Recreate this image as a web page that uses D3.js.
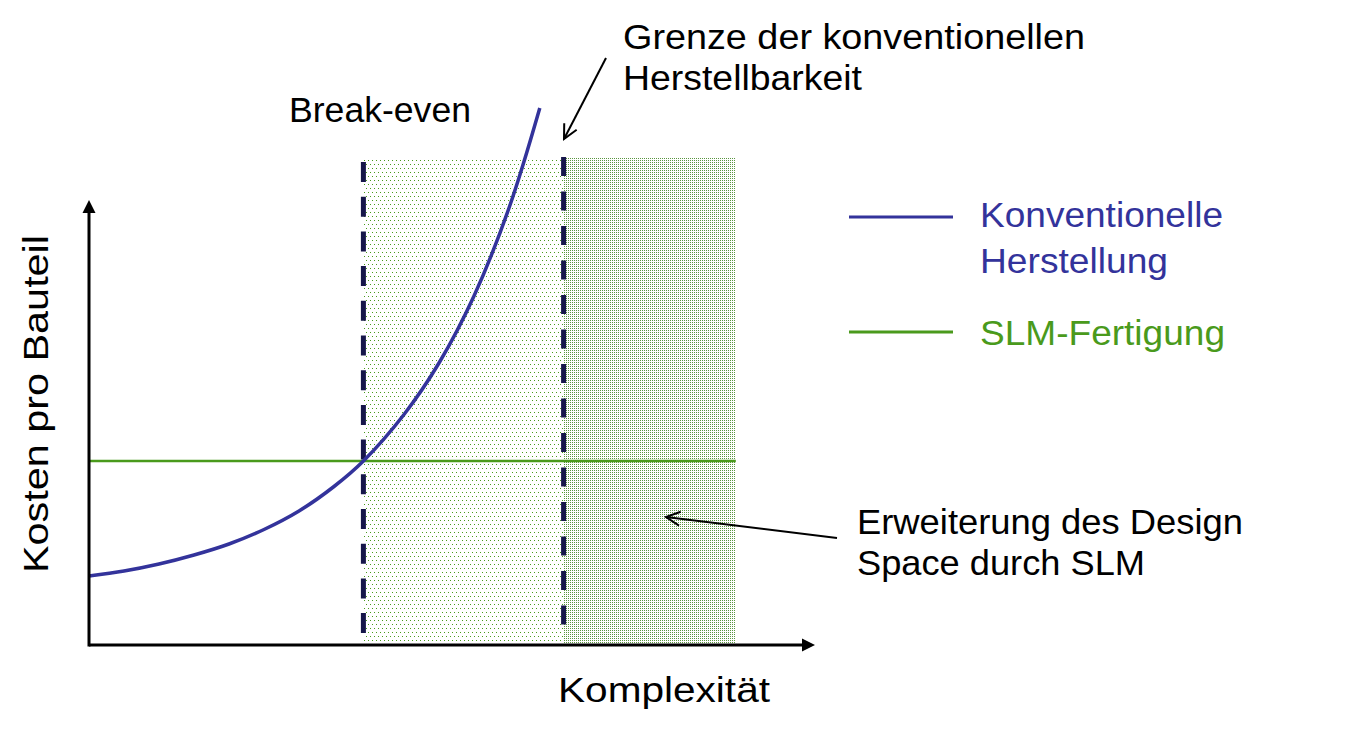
<!DOCTYPE html>
<html>
<head>
<meta charset="utf-8">
<script src="https://cdn.jsdelivr.net/npm/d3@7"></script>
<style>
  html, body { margin: 0; padding: 0; background: #fff; }
  svg { display: block; font-family: "Liberation Sans", Arial, sans-serif; }
</style>
</head>
<body>
<svg id="chart" width="1346" height="734"></svg>
<script>
// ---- data (conceptual units: complexity 0..10, cost 0..10) ----
const complexity = [0, 0.5, 1, 1.5, 2, 2.5, 3, 3.5, 3.92, 4.5, 5, 5.5, 6, 6.44];
const convCost   = [1.38, 1.48, 1.62, 1.80, 2.02, 2.31, 2.68, 3.17, 3.68, 4.61, 5.64, 6.98, 8.74, 10.74];
const slmX       = [0, 9.24];
const slmCost    = [3.68, 3.68];
const breakEven  = 3.92;   // complexity at break-even
const convLimit  = 6.78;   // limit of conventional manufacturability
const designEnd  = 9.24;   // end of extended design space
const regionTop  = 9.74;
const legendLabels = [["Konventionelle", "Herstellung"], ["SLM-Fertigung"]];

const blue = "#33339b", green = "#4a9a1c", navy = "#16164a", dotGreen = "#5a9640";

const svg = d3.select("#chart");
const x = d3.scaleLinear().domain([0, 10]).range([89, 789]);
const y = d3.scaleLinear().domain([0, 10]).range([645, 145]);

// patterns
const defs = svg.append("defs");
const pSparse = defs.append("pattern").attr("id", "sparse").attr("patternUnits", "userSpaceOnUse")
  .attr("width", 4).attr("height", 8);
pSparse.append("rect").attr("x", 0).attr("y", 0).attr("width", 1).attr("height", 1).attr("fill", green).attr("shape-rendering", "crispEdges");
pSparse.append("rect").attr("x", 2).attr("y", 4).attr("width", 1).attr("height", 1).attr("fill", green).attr("shape-rendering", "crispEdges");
const pDense = defs.append("pattern").attr("id", "dense").attr("patternUnits", "userSpaceOnUse")
  .attr("width", 2).attr("height", 2);
pDense.append("rect").attr("x", 0).attr("y", 0).attr("width", 1).attr("height", 1).attr("fill", dotGreen).attr("shape-rendering", "crispEdges");

// arrow markers
defs.append("marker").attr("id", "open").attr("viewBox", "0 0 20 20").attr("refX", 18).attr("refY", 10)
  .attr("markerWidth", 20).attr("markerHeight", 20).attr("markerUnits", "userSpaceOnUse").attr("orient", "auto")
  .append("path").attr("d", "M4,3 L18,10 L4,17").attr("fill", "none").attr("stroke", "#000").attr("stroke-width", 2);

// shaded regions
svg.append("rect").attr("x", x(breakEven)).attr("y", y(regionTop))
  .attr("width", x(convLimit) - x(breakEven)).attr("height", y(0) - y(regionTop)).attr("fill", "url(#sparse)");
svg.append("rect").attr("x", x(convLimit)).attr("y", y(regionTop))
  .attr("width", x(designEnd) - x(convLimit)).attr("height", y(0) - y(regionTop)).attr("fill", "url(#dense)");

// dashed verticals
svg.append("line").attr("x1", x(breakEven)).attr("x2", x(breakEven)).attr("y1", y(regionTop) + 4).attr("y2", y(0) - 5)
  .attr("stroke", navy).attr("stroke-width", 5).attr("stroke-dasharray", "20,14.7");
svg.append("line").attr("x1", x(convLimit)).attr("x2", x(convLimit)).attr("y1", y(regionTop) - 1).attr("y2", y(0) - 5)
  .attr("stroke", navy).attr("stroke-width", 5).attr("stroke-dasharray", "19,15.5");

// SLM line
svg.append("path").datum(slmX.map((d, i) => [d, slmCost[i]]))
  .attr("d", d3.line().x(d => x(d[0])).y(d => y(d[1])))
  .attr("fill", "none").attr("stroke", green).attr("stroke-width", 2.6);

// conventional curve
svg.append("path").datum(complexity.map((d, i) => [d, convCost[i]]))
  .attr("d", d3.line().curve(d3.curveCatmullRom.alpha(0.5)).x(d => x(d[0])).y(d => y(d[1])))
  .attr("fill", "none").attr("stroke", blue).attr("stroke-width", 3.5);

// axes with arrowheads
svg.append("line").attr("x1", x(0)).attr("x2", 803).attr("y1", y(0)).attr("y2", y(0))
  .attr("stroke", "#000").attr("stroke-width", 3);
svg.append("path").attr("d", `M815,${y(0)} L802,${y(0) - 6.5} L802,${y(0) + 6.5} Z`).attr("fill", "#000");
svg.append("line").attr("x1", x(0)).attr("x2", x(0)).attr("y1", y(0) + 1.5).attr("y2", 211)
  .attr("stroke", "#000").attr("stroke-width", 3);
svg.append("path").attr("d", `M${x(0)},200 L${x(0) - 6.5},213 L${x(0) + 6.5},213 Z`).attr("fill", "#000");

// texts
function txt(s, px, py, len, fill, size) {
  return svg.append("text").attr("x", px).attr("y", py).text(s)
    .attr("font-size", size || 35).attr("fill", fill || "#000")
    .attr("textLength", len).attr("lengthAdjust", "spacingAndGlyphs");
}
txt("Break-even", 289, 122, 182);
txt("Grenze der konventionellen", 623, 49, 462);
txt("Herstellbarkeit", 623, 90, 239);
txt("Erweiterung des Design", 857, 534, 386);
txt("Space durch SLM", 857, 575, 288);
txt("Komplexität", 558, 702, 212);
svg.append("text").attr("transform", "translate(48,573) rotate(-90)").text("Kosten pro Bauteil")
  .attr("font-size", 35).attr("textLength", 338).attr("lengthAdjust", "spacingAndGlyphs");

// legend
svg.append("line").attr("x1", 849).attr("x2", 953).attr("y1", 217).attr("y2", 217).attr("stroke", blue).attr("stroke-width", 3);
svg.append("line").attr("x1", 849).attr("x2", 953).attr("y1", 332).attr("y2", 332).attr("stroke", green).attr("stroke-width", 3);
txt(legendLabels[0][0], 980, 227, 243, blue);
txt(legendLabels[0][1], 980, 273, 188, blue);
txt(legendLabels[1][0], 980, 345, 245, green);

// annotation arrows
svg.append("line").attr("x1", 606).attr("y1", 58).attr("x2", 564).attr("y2", 139)
  .attr("stroke", "#000").attr("stroke-width", 2).attr("marker-end", "url(#open)");
svg.append("line").attr("x1", 837).attr("y1", 538).attr("x2", 666).attr("y2", 517)
  .attr("stroke", "#000").attr("stroke-width", 2).attr("marker-end", "url(#open)");
</script>
</body>
</html>
